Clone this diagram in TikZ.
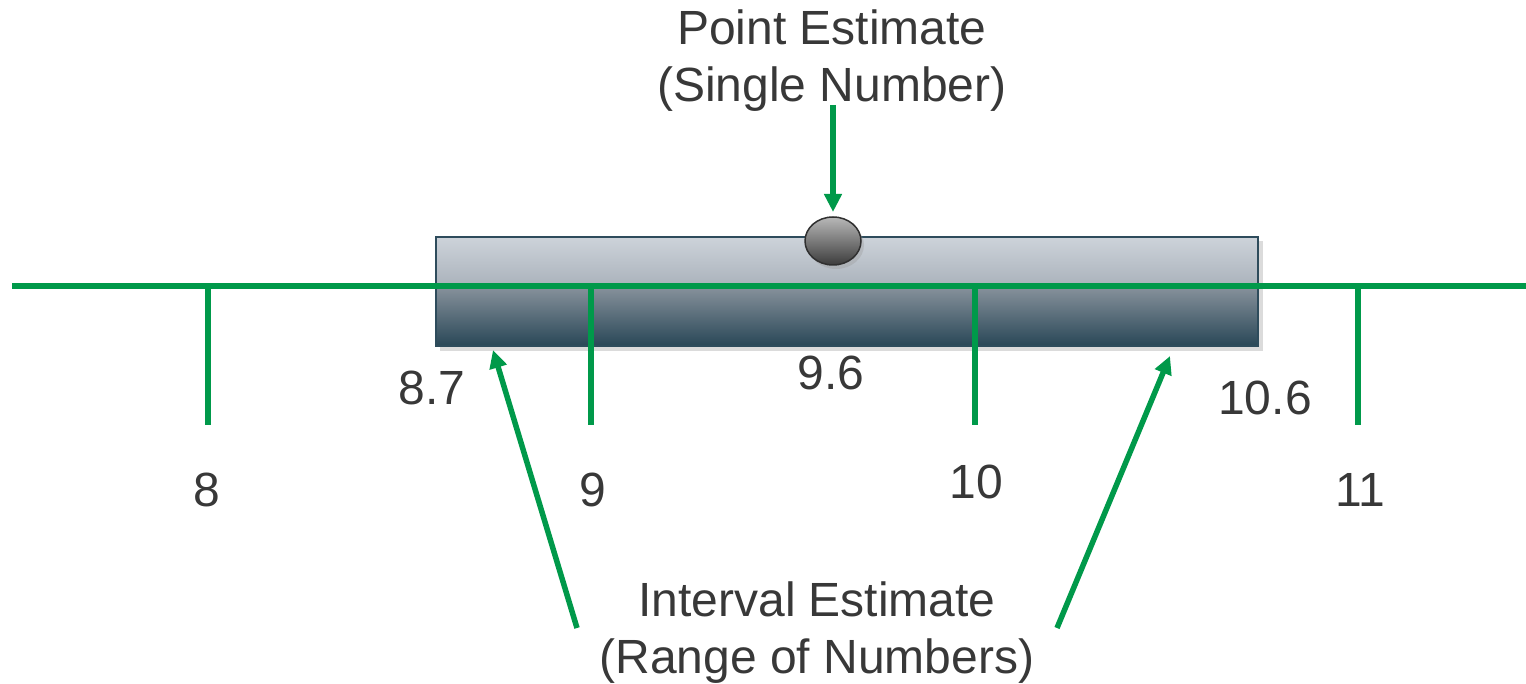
\documentclass[tikz,border=0pt]{standalone}
\usepackage{fontspec}
\setmainfont{Liberation Sans}
\usetikzlibrary{arrows.meta,shapes.geometric}
\definecolor{grn}{HTML}{00994A}
\definecolor{txt}{HTML}{383838}
\definecolor{boxedge}{HTML}{2E4C5C}
\definecolor{ta}{HTML}{CDD3DA}
\definecolor{tb}{HTML}{A9B1BA}
\definecolor{ba}{HTML}{85909A}
\definecolor{bb}{HTML}{294757}
\definecolor{ea}{HTML}{B8B8B8}
\definecolor{eb}{HTML}{3C3C3C}
\tikzset{
  axis/.style={grn, line width=5.5pt},
  arr/.style={grn, line width=5.5pt, -{Triangle[width=17pt,length=18pt]}},
  lbl/.style={text=txt, font=\fontsize{48}{57}\selectfont, inner sep=0pt, align=center},
}
\begin{document}
\begin{tikzpicture}[x=1pt,y=-1pt]
\useasboundingbox (0,0) rectangle (1526,684);
% interval box with shadow
\fill[black!40, opacity=0.35] (440,241) rectangle (1263,351);
\shade[top color=ta, bottom color=tb] (436,237) rectangle (1258,288);
\shade[top color=ba, bottom color=bb] (436,288) rectangle (1258,346);
\node[draw=boxedge, line width=1.5pt, minimum width=822pt, minimum height=109pt, inner sep=0pt] (box) at (847,291.5) {};
% point estimate ellipse
\fill[black!40, opacity=0.35] (836,245) ellipse [x radius=28pt, y radius=24pt];
\node[ellipse, draw=eb!80!black, line width=1.5pt, top color=ea, bottom color=eb, minimum width=56pt, minimum height=48pt, inner sep=0pt] (pt) at (833,241) {};
% axis
\coordinate (aL) at (12,286);
\coordinate (aR) at (1526,286);
\draw[axis] (aL) -- (aR);
\foreach \x/\n in {208/t8,591/t9,975/t10,1358/t11}{
  \coordinate (\n top) at (\x,286);
  \coordinate (\n bot) at (\x,425);
  \draw[axis] (\n top) -- (\n bot);
}
% labels
\node[lbl] (pe) at (832,61) {Point Estimate\\(Single Number)};
\node[lbl] (ie) at (817,633) {Interval Estimate\\(Range of Numbers)};
\node[lbl] (l87) at (432,388) {8.7};
\node[lbl] (l96) at (831,373) {9.6};
\node[lbl] (l106) at (1265,398) {10.6};
\node[lbl] (l8) at (207,490) {8};
\node[lbl] (l9) at (593,490) {9};
\node[lbl] (l10) at (976,482) {10};
\node[lbl] (l11) at (1360,490) {11};
% arrows
\coordinate (pa) at (833,105);
\coordinate (pb) at (833,212);
\draw[arr] (pa) -- (pb);
\coordinate (la) at (577,628);
\coordinate (lb) at (493,350);
\draw[arr] (la) -- (lb);
\coordinate (ra) at (1057,628);
\coordinate (rb) at (1170,356);
\draw[arr] (ra) -- (rb);
\end{tikzpicture}
\end{document}
